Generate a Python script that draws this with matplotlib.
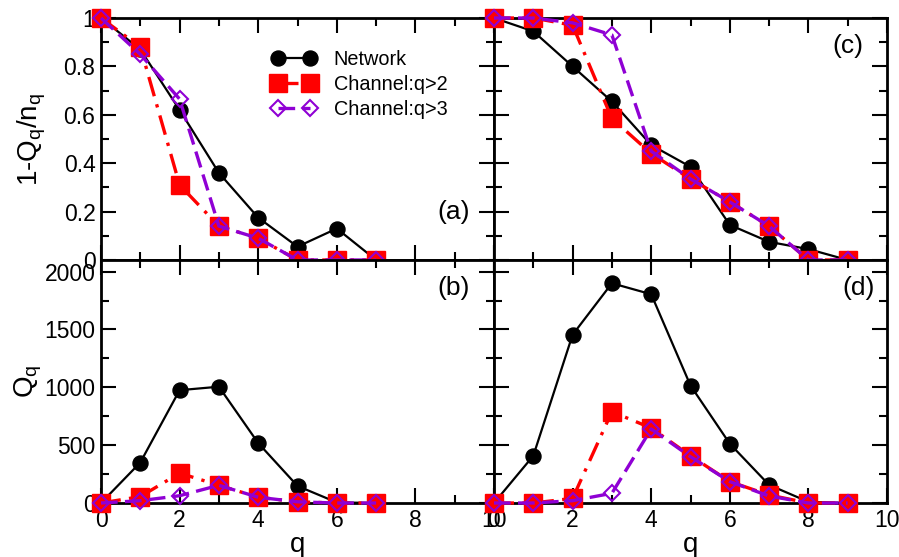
import numpy as np
import matplotlib
matplotlib.use("Agg")
import matplotlib.pyplot as plt
from matplotlib.ticker import MultipleLocator, FuncFormatter

plt.rcParams['font.family'] = ['Liberation Sans', 'DejaVu Sans']
plt.rcParams['mathtext.fontset'] = 'custom'
plt.rcParams['mathtext.rm'] = 'Liberation Sans'
plt.rcParams['mathtext.it'] = 'Liberation Sans'

# q values for each column
q_left = [0, 1, 2, 3, 4, 5, 6, 7]
q_right = [0, 1, 2, 3, 4, 5, 6, 7, 8, 9]

# (a) 1 - Q_q / n_q
a_network = [1.0, 0.87, 0.62, 0.36, 0.175, 0.055, 0.13, 0.0]
a_q2 = [1.0, 0.88, 0.31, 0.14, 0.09, 0.0, 0.0, 0.0]
a_q3 = [1.0, 0.85, 0.665, 0.14, 0.09, 0.0, 0.0, 0.0]

# (c) 1 - Q_q / n_q
c_network = [1.0, 0.945, 0.80, 0.655, 0.475, 0.385, 0.145, 0.075, 0.045, 0.0]
c_q2 = [1.0, 1.0, 0.97, 0.585, 0.44, 0.335, 0.24, 0.14, 0.0, 0.0]
c_q3 = [1.0, 1.0, 0.98, 0.93, 0.45, 0.335, 0.24, 0.14, 0.0, 0.0]

# (b) Q_q
b_network = [0, 350, 975, 1005, 518, 147, 5, 0]
b_q2 = [0, 55, 258, 153, 50, 10, 0, 0]
b_q3 = [0, 20, 63, 153, 50, 10, 0, 0]

# (d) Q_q
d_network = [0, 408, 1454, 1899, 1804, 1015, 512, 156, 10, 0]
d_q2 = [0, 0, 40, 789, 648, 408, 185, 69, 0, 0]
d_q3 = [0, 0, 20, 84, 640, 400, 185, 60, 0, 0]

labels = ["Network", "Channel:q>2", "Channel:q>3"]
purple = "#8f00d4"

W, H = 899, 557
fig = plt.figure(figsize=(W / 100, H / 100), dpi=100)

def frac(x0, y0, x1, y1):
    return [x0 / W, 1 - y1 / H, (x1 - x0) / W, (y1 - y0) / H]

ax_a = fig.add_axes(frac(101, 18, 494, 260))
ax_c = fig.add_axes(frac(494, 18, 887, 260))
ax_b = fig.add_axes(frac(101, 260, 494, 503))
ax_d = fig.add_axes(frac(494, 260, 887, 503))

def draw(ax, q, net, s2, s3):
    h1, = ax.plot(q, net, color="black", lw=1.6, marker="o", ms=10.8,
                  mfc="black", mec="black", clip_on=False, zorder=3)
    h2, = ax.plot(q, s2, color="#ff0000", lw=2.4, ls=(0, (6, 2.5, 1, 2.5)),
                  marker="s", ms=13.5, mfc="#ff0000", mec="#ff0000",
                  clip_on=False, zorder=4)
    h3, = ax.plot(q, s3, color=purple, lw=2.4, ls=(0, (5, 2.2)),
                  marker="D", ms=8.5, mfc="none", mec=purple, mew=1.5,
                  clip_on=False, zorder=5)
    return h1, h2, h3

handles = draw(ax_a, q_left, a_network, a_q2, a_q3)
draw(ax_c, q_right, c_network, c_q2, c_q3)
draw(ax_b, q_left, b_network, b_q2, b_q3)
draw(ax_d, q_right, d_network, d_q2, d_q3)

def fmt_frac(v, pos):
    if abs(v) < 1e-9:
        return "0"
    if abs(v - 1) < 1e-9:
        return "1"
    return f"{v:.1f}"

for ax in (ax_a, ax_c, ax_b, ax_d):
    ax.set_xlim(0, 10)
    ax.xaxis.set_major_locator(MultipleLocator(2))
    ax.xaxis.set_minor_locator(MultipleLocator(1))
    ax.tick_params(which="both", direction="in", top=True, right=True,
                   width=1.5, labelsize=16.5, pad=4)
    ax.tick_params(which="major", length=11)
    ax.tick_params(which="minor", length=6)
    for sp in ax.spines.values():
        sp.set_linewidth(2)

for ax in (ax_a, ax_c):
    ax.set_ylim(0, 1)
    ax.yaxis.set_major_locator(MultipleLocator(0.2))
    ax.yaxis.set_minor_locator(MultipleLocator(0.1))
    ax.yaxis.set_major_formatter(FuncFormatter(fmt_frac))
    ax.tick_params(labelbottom=False)

for ax in (ax_b, ax_d):
    ax.set_ylim(0, 2100)
    ax.yaxis.set_major_locator(MultipleLocator(500))
    ax.yaxis.set_minor_locator(MultipleLocator(250))
    ax.set_xlabel("q", fontsize=20, labelpad=0)

for ax in (ax_c, ax_d):
    ax.tick_params(labelleft=False)

ax_a.set_ylabel(r"1-Q$_\mathregular{q}$/n$_\mathregular{q}$", fontsize=20)
ax_b.set_ylabel(r"Q$_\mathregular{q}$", fontsize=20)
ax_a.yaxis.set_label_coords(-0.135, 0.5)
ax_b.yaxis.set_label_coords(-0.145, 0.5)

for ax, tag, x, y in ((ax_a, "(a)", 0.939, 0.25), (ax_b, "(b)", 0.939, 0.935),
                      (ax_c, "(c)", 0.939, 0.935), (ax_d, "(d)", 0.969, 0.935)):
    ax.text(x, y, tag, transform=ax.transAxes, fontsize=19,
            ha="right", va="top")

ax_a.legend(handles, labels, loc="upper left", bbox_to_anchor=(0.415, 0.90),
            frameon=False, fontsize=14.3, numpoints=2, handlelength=2.2,
            handletextpad=0.9, labelspacing=0.3, borderaxespad=0)

fig.savefig("out.png", dpi=100)
